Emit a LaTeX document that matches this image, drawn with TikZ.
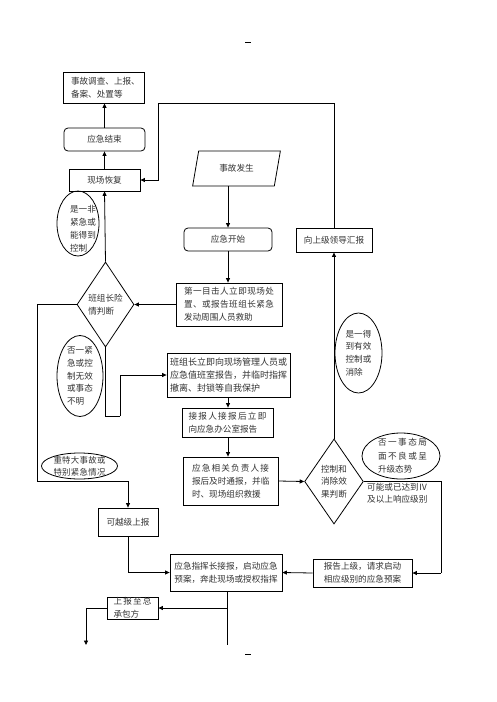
\documentclass[tikz,border=0pt]{standalone}
\usepackage{fontspec}
\setmainfont{Noto Sans CJK SC}
\usetikzlibrary{shapes.geometric,arrows.meta}
\def\myspread#1#2{\makebox[#1][s]{\myspreadA#2\relax}}
\def\myspreadA#1{#1\myspreadB}
\def\myspreadB#1{\ifx#1\relax\else\hfil#1\expandafter\myspreadB\fi}
\newcommand\fsz[2]{\fontsize{#1}{#2}\selectfont}
\begin{document}
\begin{tikzpicture}[x=1pt,y=-1pt,
  box/.style={draw, rectangle, inner sep=0pt, line width=0.8pt, font=\fsz{8.6}{13}, text=black!80},
  rbox/.style={box, rounded corners=4pt},
  ell/.style={draw, ellipse, inner sep=0pt, line width=0.8pt},
  dia/.style={draw, diamond, inner sep=0pt, line width=0.8pt, font=\fsz{8.6}{13}, text=black!80},
  txt/.style={inner sep=0pt, font=\fsz{8.6}{13}, text=black!80},
  arr/.style={line width=0.8pt, -{Triangle[length=4.5pt,width=4pt]}},
  ln/.style={line width=0.8pt}]
\useasboundingbox (0,0) rectangle (496,702);
\fill[white] (0,0) rectangle (496,702);

\node[inner sep=0pt] (pgtop) at (248,42) {\rule{6pt}{1pt}};
\node[inner sep=0pt] (pgbot) at (248,654) {\rule{6pt}{1pt}};

\node[box, minimum width=81pt, minimum height=31pt, text width=65pt, align=left] (inv) at (103.5,87.5) {事故调查、上报、\\备案、处置等};
\node[rbox, minimum width=81pt, minimum height=23pt] (fin) at (104.5,139.5) {应急结束};
\node[box, minimum width=71pt, minimum height=22pt] (rec) at (104.5,180) {现场恢复};

\node[ell, minimum width=42pt, minimum height=65pt] (e1) at (78,223.5) {};
\node[txt, align=left, font=\fsz{8.6}{13}] (e1t) at (83,228.5) {是一非\\紧急或\\能得到\\控制};

\node[dia, minimum width=57pt, minimum height=85pt, align=left] (d1) at (105.5,304.5) {班组长险\\情判断};

\node[ell, minimum width=46pt, minimum height=81pt] (e2) at (80,376) {};
\node[txt, align=left, font=\fsz{8.6}{12.7}] (e2t) at (e2) {否一紧\\急或控\\制无效\\或事态\\不明};

\node[ell, minimum width=76pt, minimum height=26pt] (e5) at (79.5,466) {};
\node[txt, align=left, font=\fsz{8.4}{12}] (e5t) at (e5) {\myspread{52pt}{重特大事故或}\\\myspread{52pt}{特别紧急情况}};

\node[draw, trapezium, trapezium left angle=71, trapezium right angle=109, trapezium stretches=true, minimum width=88pt, minimum height=35pt, inner sep=0pt, line width=0.8pt, font=\fsz{8.6}{13}, text=black!80] (occ) at (236.5,168.5) {事故发生};

\node[rbox, minimum width=88pt, minimum height=23pt] (start) at (228,239.5) {应急开始};

\node[box, minimum width=106pt, minimum height=43pt, text width=90pt, align=left] (first) at (229,304.5) {\myspread{90pt}{第一目击人立即现场处}\\\myspread{90pt}{置、或报告班组长紧急}\\发动周围人员救助};

\node[box, minimum width=76pt, minimum height=24pt] (up) at (334,240) {向上级领导汇报};

\node[ell, minimum width=47pt, minimum height=80pt] (e3) at (358.5,353) {};
\node[txt, align=left, font=\fsz{8.6}{12.7}] (e3t) at (e3) {是一得\\到有效\\控制或\\消除};

\node[box, minimum width=123pt, minimum height=44pt, text width=117pt, align=left, font=\fsz{9}{13}] (lead) at (228.5,375) {\myspread{117pt}{班组长立即向现场管理人员或}\\\myspread{117pt}{应急值班室报告，并临时指挥}\\撤离、封锁等自我保护};

\node[box, minimum width=91pt, minimum height=29pt, text width=78pt, align=left] (recv) at (227.5,422.5) {\myspread{78pt}{接报人接报后立即}\\向应急办公室报告};

\node[box, minimum width=95pt, minimum height=48pt, text width=77pt, align=left] (resp) at (230.5,481) {\myspread{77pt}{应急相关负责人接}\\\myspread{77pt}{报后及时通报，并临}\\时、现场组织救援};

\node[dia, minimum width=56pt, minimum height=85pt, align=center, font=\fsz{8.6}{12.5}] (d2) at (334,481.5) {控制和\\消除效\\果判断};

\node[ell, minimum width=78pt, minimum height=46pt] (e4) at (401,456) {};
\node[txt, text width=49pt, align=left, font=\fsz{8.6}{13.5}] (e4t) at (402.5,456) {\myspread{49pt}{否一事态局}\\\myspread{49pt}{面不良或呈}\\升级态势};

\node[txt, anchor=west, align=left, font=\fsz{8.6}{12}] (lvl) at (367,493) {可能或已达到Ⅳ\\及以上响应级别};

\node[box, minimum width=99pt, minimum height=28pt, align=center] (rup) at (362.5,573) {报告上级，请求启动\\相应级别的应急预案};
\node[box, minimum width=112pt, minimum height=37pt, align=center] (cmd) at (226,572.5) {应急指挥长接报，启动应急\\预案，奔赴现场或授权指挥};
\node[box, minimum width=60pt, minimum height=28pt] (skip) at (128,522) {可越级上报};
\node[box, minimum width=51pt, minimum height=22pt, text width=38pt, align=left] (gc) at (132.5,608) {\myspread{38pt}{上报至总}\\承包方};

% coordinates
\coordinate (L1) at (37,481);
\coordinate (L2) at (120,416);
\coordinate (T2) at (158,103);
\coordinate (R) at (441,573);
\coordinate (B1) at (227,645);
\coordinate (B2) at (227,608);
\coordinate (B3) at (86,645);

% connectors
\draw[arr] (rec.north) -- (fin.south);
\draw[arr] (fin.north) -- (fin.north |- inv.south);
\draw[arr] (d1.north) -- (rec.south);
\draw[arr] (first.west) -- (d1.east);
\draw[ln] (d1.west) -| (L1);
\draw[arr] (L1) -| (skip.north);
\draw[ln] (d1.south) |- (L2);
\draw[arr] (L2) |- (lead.west);
\draw[arr] (occ.south -| start.north) -- (start.north);
\draw[arr] (start.south) -- (start.south |- first.north);
\draw[arr] (lead.south -| 228,0) -- (recv.north -| 228,0);
\draw[arr] (recv.south -| 228,0) -- (resp.north -| 228,0);
\draw[arr] (resp.east) -- (d2.west);
\draw[arr] (d2.north) -- (up.south);
\draw[ln] (up.north) |- (T2);
\draw[arr] (T2) |- (rec.east);
\draw[ln] (d2.east) -| (R);
\draw[arr] (R) -- (rup.east);
\draw[arr] (rup.west) -- (cmd.east);
\draw[arr] (skip.south) |- (cmd.west);
\draw[ln] (cmd.south -| B1) -- (B1);
\draw[arr] (B2) -- (gc.east);
\draw[arr] (gc.west) -| (B3);
\end{tikzpicture}
\end{document}
